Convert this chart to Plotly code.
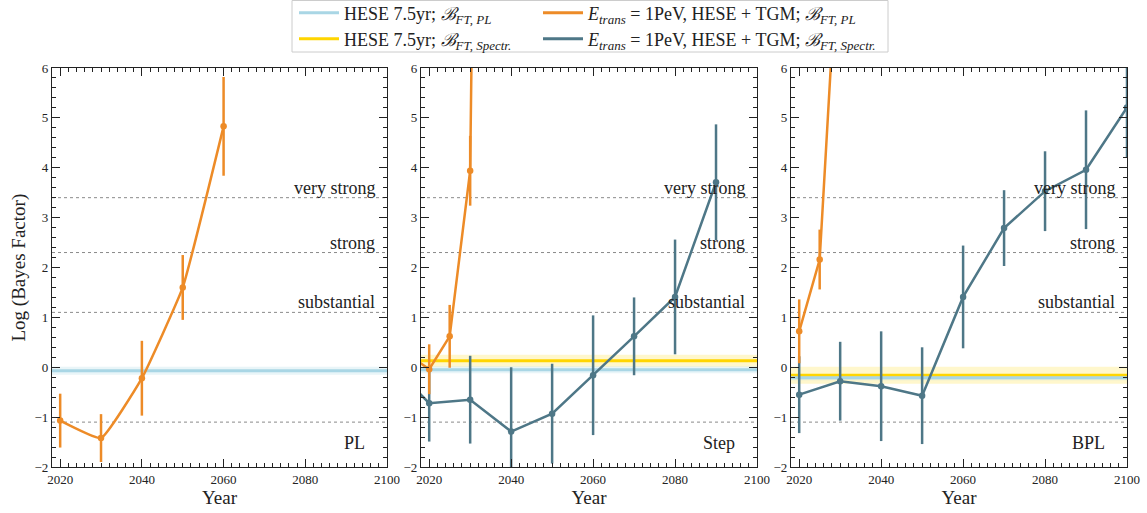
import plotly.graph_objects as go

# ---------------- data ----------------
panel_names = ["PL", "Step", "BPL"]

pl_years = [2020, 2030, 2040, 2050, 2060]
pl_orange = [-1.07, -1.42, -0.22, 1.60, 4.83]
pl_orange_err = [0.54, 0.48, 0.75, 0.65, 0.99]

step_orange_years = [2017, 2020, 2025, 2030, 2035]
step_orange = [0.13, -0.04, 0.62, 3.94, 38.0]
step_orange_err = [0.5, 0.5, 0.63, 0.7, 1.0]

step_gray_years = [2017, 2020, 2030, 2040, 2050, 2060, 2070, 2080, 2090]
step_gray = [-0.47, -0.72, -0.65, -1.29, -0.93, -0.16, 0.62, 1.41, 3.71]
step_gray_err = [0.8, 0.77, 0.88, 1.29, 1.0, 1.2, 0.78, 1.15, 1.16]

bpl_orange_years = [2020, 2025, 2030]
bpl_orange = [0.72, 2.16, 9.3]
bpl_orange_err = [0.64, 0.6, 1.0]

bpl_gray_years = [2020, 2030, 2040, 2050, 2060, 2070, 2080, 2090, 2100]
bpl_gray = [-0.55, -0.28, -0.38, -0.57, 1.41, 2.79, 3.53, 3.96, 5.21]
bpl_gray_err = [0.77, 0.79, 1.1, 0.97, 1.03, 0.76, 0.8, 1.19, 1.0]

hese_pl = [-0.07, -0.05, -0.21]
hese_pl_err = [0.08, 0.07, 0.05]
hese_spec = [None, 0.13, -0.16]
hese_spec_err = [None, 0.12, 0.17]

thresholds = [-1.1, 1.1, 2.3, 3.4]
threshold_labels = ["", "substantial", "strong", "very strong"]

x_range = [2018, 2100]
y_range = [-2, 6]

# ---------------- styles ----------------
ORANGE = "#ED8B27"
SLATE = "#4E7787"
LBLUE = "#A9D6E5"
GOLD = "#FFD500"
FONT = "Liberation Serif"

B = "<i>ℬ</i>"
SUB = '<sub><i><span style="font-size:13px">{}</span></i></sub>'
lab_hese_pl = "HESE 7.5yr; " + B + SUB.format("FT, PL")
lab_hese_sp = "HESE 7.5yr; " + B + SUB.format("FT, Spectr.")
lab_tgm_pl = "<i>E</i>" + SUB.format("trans") + " = 1PeV, HESE + TGM; " + B + SUB.format("FT, PL")
lab_tgm_sp = "<i>E</i>" + SUB.format("trans") + " = 1PeV, HESE + TGM; " + B + SUB.format("FT, Spectr.")

W, H = 1147, 513
ML, MR, MT, MB = 52, 20, 68, 46
PW, PH = W - ML - MR, H - MT - MB

fig = go.Figure()

def add_series(xs, ys, errs, color, axis, shape="linear"):
    xa = "x" if axis == 1 else f"x{axis}"
    ya = "y" if axis == 1 else f"y{axis}"
    fig.add_trace(go.Scatter(
        x=xs, y=ys, mode="lines+markers", xaxis=xa, yaxis=ya,
        line=dict(color=color, width=2.5, shape=shape, smoothing=0.35),
        marker=dict(color=color, size=6.5),
        error_y=dict(type="data", array=errs, visible=True, color=color,
                     thickness=2.5, width=0),
        showlegend=False, hoverinfo="skip"))

add_series(pl_years, pl_orange, pl_orange_err, ORANGE, 1, "spline")
add_series(step_gray_years, step_gray, step_gray_err, SLATE, 2)
add_series(step_orange_years, step_orange, step_orange_err, ORANGE, 2)
add_series(bpl_gray_years, bpl_gray, bpl_gray_err, SLATE, 3)
add_series(bpl_orange_years, bpl_orange, bpl_orange_err, ORANGE, 3)

# legend entries (line only), one legend per slot for exact placement
legend_items = [(lab_hese_pl, LBLUE, "legend", 294, 13),
                (lab_hese_sp, GOLD, "legend2", 294, 39),
                (lab_tgm_pl, ORANGE, "legend3", 538, 13),
                (lab_tgm_sp, SLATE, "legend4", 538, 39)]
for lab, col, lg, _, _ in legend_items:
    fig.add_trace(go.Scatter(x=[None], y=[None], mode="lines", name=lab,
                             line=dict(color=col, width=3), legend=lg,
                             showlegend=True))

shapes = []
annotations = []
for i in range(3):
    n = i + 1
    xr = "x" if n == 1 else f"x{n}"
    yr = "y" if n == 1 else f"y{n}"
    for t, lab in zip(thresholds, threshold_labels):
        shapes.append(dict(type="line", xref=f"{xr} domain", yref=yr, x0=0, x1=1,
                           y0=t, y1=t, line=dict(color="#8a8a8a", width=1, dash="dot"),
                           layer="below"))
        if lab:
            annotations.append(dict(x=2097.5, y=t, xref=xr, yref=yr, text=lab,
                                    showarrow=False, xanchor="right", yanchor="bottom",
                                    yshift=-2, font=dict(family=FONT, size=18, color="#222")))
    if hese_spec[i] is not None:
        c, e = hese_spec[i], hese_spec_err[i]
        shapes.append(dict(type="rect", xref=f"{xr} domain", yref=yr, x0=0, x1=1,
                           y0=c - e, y1=c + e, fillcolor="rgba(255,213,0,0.2)",
                           line=dict(width=0), layer="below"))
    c, e = hese_pl[i], hese_pl_err[i]
    shapes.append(dict(type="rect", xref=f"{xr} domain", yref=yr, x0=0, x1=1,
                       y0=c - e, y1=c + e, fillcolor="rgba(169,214,229,0.25)",
                       line=dict(width=0), layer="below"))
    if hese_spec[i] is not None:
        shapes.append(dict(type="line", xref=f"{xr} domain", yref=yr, x0=0, x1=1,
                           y0=hese_spec[i], y1=hese_spec[i],
                           line=dict(color=GOLD, width=3), layer="below"))
    shapes.append(dict(type="line", xref=f"{xr} domain", yref=yr, x0=0, x1=1,
                       y0=hese_pl[i], y1=hese_pl[i],
                       line=dict(color=LBLUE, width=3), layer="below"))
    annotations.append(dict(x=2095, y=-1.52, xref=xr, yref=yr, text=panel_names[i],
                            showarrow=False, xanchor="right", yanchor="middle",
                            font=dict(family=FONT, size=18, color="#222")))

# y-axis title
annotations.append(dict(x=(18 - ML) / PW, y=0.5, xref="paper", yref="paper",
                        text="Log (Bayes Factor)", textangle=-90, showarrow=False,
                        xanchor="center", yanchor="middle",
                        font=dict(family=FONT, size=19, color="#222")))

# legend frame
shapes.append(dict(type="rect", xref="paper", yref="paper",
                   x0=(292 - ML) / PW, x1=(888 - ML) / PW,
                   y0=(H - MB - 52) / PH, y1=(H - MB - 0.5) / PH,
                   line=dict(color="#cccccc", width=1), fillcolor="white", layer="above"))

domains = [[0, 335 / PW], [369 / PW, 705 / PW], [739 / PW, 1.0]]
layout = dict(
    width=W, height=H,
    margin=dict(l=ML, r=MR, t=MT, b=MB, autoexpand=False),
    paper_bgcolor="white", plot_bgcolor="white",
    font=dict(family=FONT, size=13, color="#222"),
    shapes=shapes, annotations=annotations,
)
for lab, col, lg, lx, ly in legend_items:
    layout[lg] = dict(x=lx / W, y=1 - ly / H, xref="container", yref="container",
                      xanchor="left", yanchor="middle", bgcolor="rgba(0,0,0,0)",
                      font=dict(family=FONT, size=18, color="#222"),
                      tracegroupgap=0, itemwidth=40)
for i in range(3):
    n = i + 1
    xk = "xaxis" if n == 1 else f"xaxis{n}"
    yk = "yaxis" if n == 1 else f"yaxis{n}"
    layout[xk] = dict(domain=domains[i], range=x_range, anchor="y" if n == 1 else f"y{n}",
                      tickmode="linear", tick0=2020, dtick=20, ticks="inside", ticklen=8,
                      tickwidth=1, tickcolor="#222", mirror="allticks", showline=True,
                      linecolor="#222", linewidth=1.2, showgrid=False, zeroline=False,
                      tickfont=dict(family=FONT, size=13),
                      minor=dict(dtick=2, tick0=2020, ticks="inside", ticklen=4,
                                 tickcolor="#222", showgrid=False),
                      title=dict(text="Year", font=dict(family=FONT, size=19), standoff=0))
    layout[yk] = dict(domain=[0, 1], range=y_range, anchor="x" if n == 1 else f"x{n}",
                      tickmode="linear", tick0=0, dtick=1, ticks="inside", ticklen=8,
                      tickwidth=1, tickcolor="#222", mirror="allticks", showline=True,
                      linecolor="#222", linewidth=1.2, showgrid=False, zeroline=False,
                      tickfont=dict(family=FONT, size=13),
                      minor=dict(dtick=0.2, tick0=0, ticks="inside", ticklen=4,
                                 tickcolor="#222", showgrid=False))
fig.update_layout(**layout)
fig.write_html("out.html", config={"displayModeBar": False},
               post_script="document.body.style.margin='0';document.body.style.padding='0';")
